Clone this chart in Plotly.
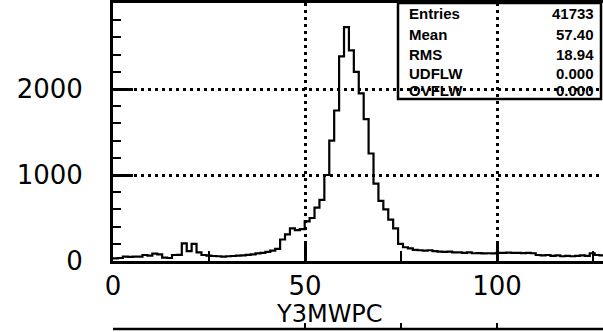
import plotly.graph_objects as go

# ---------------- data ----------------
bin_width = 1.28
n_bins = 100
counts = [
    30, 35, 50, 48, 52, 50, 70, 62, 85, 78,
    40, 35, 70, 72, 205, 115, 200, 100, 70, 62,
    58, 55, 52, 55, 58, 62, 65, 72, 78, 88,
    95, 105, 120, 140, 250, 310, 380, 360, 370, 460,
    500, 620, 710, 1000, 1400, 1750, 2380, 2720, 2450, 2200,
    1950, 1650, 1250, 900, 700, 600, 480, 380, 200, 160,
    147, 130, 125, 120, 125, 115, 110, 105, 110, 100,
    100, 95, 100, 90, 92, 88, 90, 88, 95, 95,
    97, 95, 95, 92, 95, 90, 70, 65, 70, 60,
    65, 55, 60, 55, 60, 65, 60, 90, 70, 65,
]
x_ticks = [0, 50, 100]
x_tick_text = ["0", "50", "100"]
y_ticks = [0, 1000, 2000]
y_tick_text = ["0", "1000", "2000"]
stat_names = ["Entries", "Mean", "RMS", "UDFLW", "OVFLW"]
stat_values = ["41733", "57.40", "18.94", "0.000", "0.000"]
x_title = "Y3MWPC"

# ---------------- figure ----------------
edges = [i * bin_width for i in range(n_bins + 1)]
ys = counts + [counts[-1]]

W, H = 603, 332
L, R, T, B = 113, 0, 3, 71

fig = go.Figure()
fig.add_trace(go.Scatter(
    x=edges, y=ys, mode="lines", line_shape="hv",
    line=dict(color="black", width=2.2), hoverinfo="skip", showlegend=False,
))

font_axis = dict(family="DejaVu Sans", size=26, color="black")

fig.update_layout(
    width=W, height=H,
    margin=dict(l=L, r=R, t=T, b=B),
    paper_bgcolor="white", plot_bgcolor="white",
    showlegend=False,
    xaxis=dict(
        range=[0, (W - L) / 3.84],
        tickvals=x_ticks, ticktext=x_tick_text,
        ticks="inside", ticklen=20, tickwidth=2.5, tickcolor="black",
        showline=True, linecolor="black", linewidth=3, mirror=True,
        showgrid=True, gridcolor="black", gridwidth=2.5, griddash="3px,4px",
        minor=dict(tickvals=[25, 75, 125], ticks="inside", ticklen=10,
                   tickwidth=2, tickcolor="black", showgrid=False),
        tickfont=font_axis, ticklabelstandoff=0,
        zeroline=False, fixedrange=True,
    ),
    yaxis=dict(
        range=[0, 3000],
        tickvals=y_ticks, ticktext=y_tick_text,
        ticks="inside", ticklen=20, tickwidth=2.5, tickcolor="black",
        showline=True, linecolor="black", linewidth=3, mirror=False,
        showgrid=True, gridcolor="black", gridwidth=2.5, griddash="3px,4px",
        minor=dict(dtick=200, tick0=0, ticks="inside", ticklen=8,
                   tickwidth=2, tickcolor="black", showgrid=False),
        tickfont=font_axis, ticklabelstandoff=22,
        zeroline=False, fixedrange=True,
    ),
)

# axis title
fig.add_annotation(
    x=56.5, xref="x", y=0, yref="paper", yshift=-53, yanchor="middle",
    text=x_title, showarrow=False, font=dict(family="DejaVu Sans", size=24, color="black"),
)

# statistics box
bx0, bx1 = (398 - L) / (W - L), (601 - L) / (W - L)
by0 = 1 - (99 - T) / (H - T - B)
fig.add_shape(type="rect", xref="paper", yref="paper",
              x0=bx0, x1=bx1, y0=by0, y1=1.0,
              line=dict(color="black", width=2.5), fillcolor="rgba(0,0,0,0)")
row_y = [14, 34, 54, 73, 91]
stat_font = dict(family="Liberation Sans", size=15, color="black")
for name, val, ry in zip(stat_names, stat_values, row_y):
    yp = 1 - (ry - T) / (H - T - B)
    fig.add_annotation(x=(407 - L) / (W - L), xref="paper", y=yp, yref="paper",
                       xanchor="left", yanchor="middle", showarrow=False,
                       text="<b>" + name + "</b>", font=stat_font)
    fig.add_annotation(x=(596 - L) / (W - L), xref="paper", y=yp, yref="paper",
                       xanchor="right", yanchor="middle", showarrow=False,
                       text="<b>" + val + "</b>", font=stat_font)

# frame of the next panel peeking in at the bottom
yb = 1 - (329 - T) / (H - T - B)
fig.add_shape(type="line", xref="paper", yref="paper", x0=0, x1=1, y0=yb, y1=yb,
              line=dict(color="black", width=2.5))
for xv in [50, 75, 100]:
    fig.add_shape(type="line", xref="x", yref="paper", x0=xv, x1=xv,
                  y0=yb, y1=yb + 6 / (H - T - B),
                  line=dict(color="black", width=2))

fig.write_html("out.html")
